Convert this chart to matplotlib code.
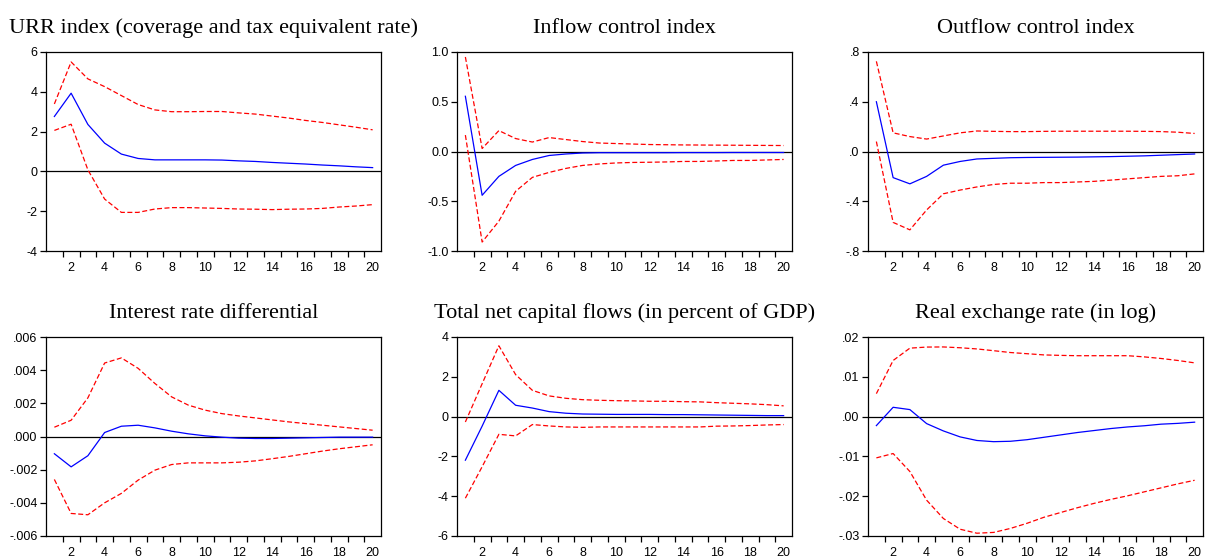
import matplotlib.pyplot as plt
import numpy as np

periods = np.arange(1, 21)

urr_resp = [2.76, 3.93, 2.36, 1.42, 0.87, 0.65, 0.58, 0.58, 0.58, 0.58,
            0.57, 0.53, 0.50, 0.45, 0.41, 0.37, 0.32, 0.28, 0.23, 0.19]
urr_hi = [3.39, 5.50, 4.65, 4.26, 3.81, 3.36, 3.09, 3.00, 3.00, 3.01,
          3.01, 2.94, 2.88, 2.78, 2.68, 2.56, 2.46, 2.34, 2.22, 2.09]
urr_lo = [2.06, 2.37, 0.08, -1.39, -2.06, -2.06, -1.89, -1.82, -1.82, -1.84,
          -1.86, -1.89, -1.90, -1.92, -1.90, -1.89, -1.86, -1.79, -1.74, -1.67]

inflow_resp = [0.555, -0.44, -0.25, -0.14, -0.08, -0.04, -0.025, -0.015, -0.012, -0.012,
               -0.012, -0.012, -0.012, -0.011, -0.011, -0.011, -0.010, -0.010, -0.010, -0.010]
inflow_hi = [0.95, 0.03, 0.21, 0.13, 0.095, 0.14, 0.12, 0.10, 0.085, 0.08,
             0.075, 0.07, 0.068, 0.066, 0.065, 0.064, 0.063, 0.062, 0.061, 0.06]
inflow_lo = [0.165, -0.91, -0.70, -0.40, -0.26, -0.21, -0.17, -0.14, -0.125, -0.115,
             -0.11, -0.108, -0.105, -0.10, -0.10, -0.095, -0.09, -0.09, -0.085, -0.08]

outflow_resp = [0.40, -0.21, -0.26, -0.20, -0.11, -0.08, -0.06, -0.055, -0.05, -0.048,
                -0.047, -0.046, -0.045, -0.043, -0.041, -0.038, -0.035, -0.030, -0.025, -0.02]
outflow_hi = [0.725, 0.15, 0.12, 0.10, 0.125, 0.15, 0.165, 0.162, 0.160, 0.160,
              0.162, 0.163, 0.163, 0.163, 0.163, 0.163, 0.162, 0.160, 0.155, 0.145]
outflow_lo = [0.08, -0.57, -0.63, -0.47, -0.34, -0.31, -0.285, -0.265, -0.255, -0.255,
              -0.25, -0.25, -0.245, -0.24, -0.23, -0.22, -0.21, -0.20, -0.195, -0.18]

irate_resp = [-0.00104, -0.00183, -0.00116, 0.00024, 0.00062, 0.00068, 0.00052, 0.00032, 0.00016, 0.00004,
              -0.00004, -0.0001, -0.00012, -0.00012, -0.0001, -0.00008, -0.00006, -0.00004, -0.00004, -0.00004]
irate_hi = [0.00056, 0.00098, 0.00233, 0.00443, 0.00474, 0.00411, 0.0032, 0.00239, 0.00189, 0.00159,
            0.00138, 0.00124, 0.00112, 0.0010, 0.00088, 0.00078, 0.00068, 0.00058, 0.00048, 0.00038]
irate_lo = [-0.00259, -0.00464, -0.00472, -0.0040, -0.00343, -0.00263, -0.00203, -0.00169, -0.00159, -0.00159,
            -0.00159, -0.00155, -0.00147, -0.00134, -0.0012, -0.00104, -0.00088, -0.00074, -0.00062, -0.0005]

flows_resp = [-2.19, -0.48, 1.32, 0.57, 0.43, 0.25, 0.17, 0.13, 0.12, 0.11,
              0.11, 0.11, 0.10, 0.10, 0.09, 0.08, 0.07, 0.06, 0.05, 0.05]
flows_hi = [-0.27, 1.65, 3.56, 2.11, 1.32, 1.04, 0.92, 0.85, 0.82, 0.80,
            0.79, 0.77, 0.77, 0.75, 0.74, 0.70, 0.67, 0.64, 0.60, 0.54]
flows_lo = [-4.10, -2.52, -0.89, -0.97, -0.40, -0.47, -0.52, -0.54, -0.52, -0.52,
            -0.52, -0.52, -0.52, -0.52, -0.52, -0.48, -0.47, -0.45, -0.42, -0.40]

rer_resp = [-0.00226, 0.00234, 0.00176, -0.00176, -0.0036, -0.0051, -0.006, -0.0063, -0.0062, -0.0058,
            -0.0052, -0.0046, -0.004, -0.0035, -0.003, -0.0026, -0.0023, -0.0019, -0.0017, -0.0014]
rer_hi = [0.00577, 0.0141, 0.0172, 0.01747, 0.0175, 0.0173, 0.0170, 0.01656, 0.0161, 0.0158,
          0.0155, 0.01538, 0.0153, 0.0153, 0.0153, 0.0153, 0.0150, 0.0146, 0.0141, 0.0135]
rer_lo = [-0.01037, -0.00928, -0.0138, -0.021, -0.0256, -0.0283, -0.0293, -0.0291, -0.0281, -0.0268,
          -0.0253, -0.0241, -0.0229, -0.0218, -0.0208, -0.0199, -0.0189, -0.0179, -0.0169, -0.0160]

titles = ["URR index (coverage and tax equivalent rate)", "Inflow control index",
          "Outflow control index", "Interest rate differential",
          "Total net capital flows (in percent of GDP)", "Real exchange rate (in log)"]

yticks = [[-4, -2, 0, 2, 4, 6],
          [-1.0, -0.5, 0.0, 0.5, 1.0],
          [-0.8, -0.4, 0.0, 0.4, 0.8],
          [-0.006, -0.004, -0.002, 0.0, 0.002, 0.004, 0.006],
          [-6, -4, -2, 0, 2, 4],
          [-0.03, -0.02, -0.01, 0.0, 0.01, 0.02]]
ylabels = [["-4", "-2", "0", "2", "4", "6"],
           ["-1.0", "-0.5", "0.0", "0.5", "1.0"],
           ["-.8", "-.4", ".0", ".4", ".8"],
           ["-.006", "-.004", "-.002", ".000", ".002", ".004", ".006"],
           ["-6", "-4", "-2", "0", "2", "4"],
           ["-.03", "-.02", "-.01", ".00", ".01", ".02"]]

series = [(urr_resp, urr_hi, urr_lo), (inflow_resp, inflow_hi, inflow_lo),
          (outflow_resp, outflow_hi, outflow_lo), (irate_resp, irate_hi, irate_lo),
          (flows_resp, flows_hi, flows_lo), (rer_resp, rer_hi, rer_lo)]

W, H = 1205, 557
fig = plt.figure(figsize=(W / 100, H / 100), dpi=100)

# panel boxes in pixels: left, top, width, height
lefts = [46, 457, 868]
tops = [52, 337]
pw, ph = 335, 199

for i in range(6):
    r, c = divmod(i, 3)
    l, t = lefts[c], tops[r]
    ax = fig.add_axes([l / W, 1 - (t + ph) / H, pw / W, ph / H])
    resp, hi, lo = series[i]
    ax.axhline(0, color="black", lw=0.9, zorder=1)
    ax.plot(periods, hi, color="#ff0000", lw=0.9, ls=(0, (4, 2)))
    ax.plot(periods, lo, color="#ff0000", lw=0.9, ls=(0, (4, 2)))
    ax.plot(periods, resp, color="#0000ff", lw=0.9)
    ax.set_xlim(0.5, 20.5)
    ax.set_ylim(yticks[i][0], yticks[i][-1])
    ax.set_yticks(yticks[i])
    ax.set_yticklabels(ylabels[i], fontfamily="Liberation Sans", fontsize=9)
    ax.set_xticks(np.arange(2, 21, 2))
    ax.set_xticklabels([str(v) for v in range(2, 21, 2)],
                       fontfamily="Liberation Sans", fontsize=9)
    ax.set_xticks(np.arange(1.5, 20, 1.0), minor=True)
    ax.tick_params(axis="x", which="major", length=0, pad=8)
    ax.tick_params(axis="x", which="minor", length=4, width=0.9, direction="out")
    ax.tick_params(axis="y", length=4, width=0.9, direction="out", pad=2)
    for s in ax.spines.values():
        s.set_linewidth(0.9)
    ax.set_title(titles[i], fontfamily="Liberation Serif", fontsize=16, pad=14)

fig.savefig("out.png", dpi=100)
